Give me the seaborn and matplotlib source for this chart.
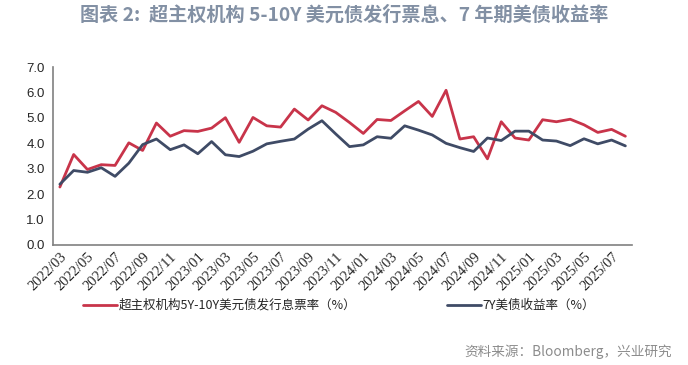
import matplotlib
matplotlib.use("Agg")
import matplotlib.pyplot as plt
import numpy as np
import pandas as pd
import seaborn as sns

months = pd.period_range("2022-03", "2025-08", freq="M").strftime("%Y/%m").tolist()

coupon = [2.28, 3.56, 2.97, 3.16, 3.13, 4.02, 3.72, 4.80, 4.28, 4.50, 4.47, 4.60, 5.01, 4.04,
          5.02, 4.69, 4.64, 5.35, 4.92, 5.48, 5.22, 4.82, 4.39, 4.94, 4.90, 5.28, 5.65, 5.06,
          6.09, 4.17, 4.26, 3.39, 4.85, 4.21, 4.13, 4.93, 4.85, 4.95, 4.73, 4.43, 4.55, 4.28]
ust7y = [2.39, 2.93, 2.86, 3.04, 2.70, 3.22, 3.95, 4.17, 3.75, 3.94, 3.59, 4.07, 3.55, 3.48,
         3.69, 3.98, 4.08, 4.17, 4.56, 4.89, 4.37, 3.87, 3.94, 4.26, 4.20, 4.69, 4.52, 4.33,
         4.00, 3.83, 3.68, 4.21, 4.11, 4.48, 4.48, 4.13, 4.09, 3.91, 4.18, 3.98, 4.13, 3.90]

name_coupon = "超主权机构5Y-10Y美元债发行息票率（%）"
name_ust = "7Y美债收益率（%）"

df = pd.DataFrame({"idx": np.arange(len(months)), name_coupon: coupon, name_ust: ust7y})
long = df.melt(id_vars="idx", var_name="series", value_name="value")

sns.set_style("white")
plt.rcParams["font.family"] = ["Noto Sans CJK SC", "DejaVu Sans"]

fig = plt.figure(figsize=(6.88, 3.65), dpi=100)
ax = fig.add_axes([0.077, 0.329, 0.842, 0.487])

sns.lineplot(data=long, x="idx", y="value", hue="series",
             palette=["#C8344A", "#3F4B66"], linewidth=2.0, ax=ax, legend=True)

ax.set_xlim(-0.5, len(months) - 0.5)
ax.set_ylim(0, 7)
ax.set_yticks(np.arange(0, 7.1, 1))
ax.set_yticklabels([f"{v:.1f}" for v in np.arange(0, 7.1, 1)],
                   family="Liberation Sans", fontsize=9.5)

# tick marks between category pairs, labels on every other month
ax.set_xticks(np.arange(-0.5, len(months), 2))
ax.set_xticklabels([])
ax.set_xticks(np.arange(0, len(months), 2), minor=True)
ax.set_xticklabels(months[::2], minor=True, rotation=45, ha="right",
                   rotation_mode="anchor", family="Liberation Serif", fontsize=10.5)
ax.tick_params(axis="x", which="minor", length=0, pad=4)
ax.tick_params(axis="x", which="major", length=4, width=1, color="#808080", direction="out")
ax.tick_params(axis="y", length=4, width=1, color="#808080", direction="out", pad=2)

for s in ["top", "right"]:
    ax.spines[s].set_visible(False)
for s in ["left", "bottom"]:
    ax.spines[s].set_color("#808080")
    ax.spines[s].set_linewidth(1.2)

ax.set_xlabel("")
ax.set_ylabel("")

handles, labels = ax.get_legend_handles_labels()
ax.get_legend().remove()
fig.legend(handles, labels, loc="center left", bbox_to_anchor=(0.105, 0.163), ncol=2,
           frameon=False, fontsize=9, handlelength=2.7, handletextpad=0.1,
           columnspacing=7.3)

fig.text(0.5, 0.958, "图表 2:  超主权机构 5-10Y 美元债发行票息、7 年期美债收益率",
         ha="center", va="center", fontsize=13.8, fontweight="bold", color="#8290A4")
fig.text(0.977, 0.035, "资料来源：Bloomberg，兴业研究", ha="right", va="center",
         fontsize=9.8, color="#8C8C8C")

fig.savefig("out.png", dpi=100)
